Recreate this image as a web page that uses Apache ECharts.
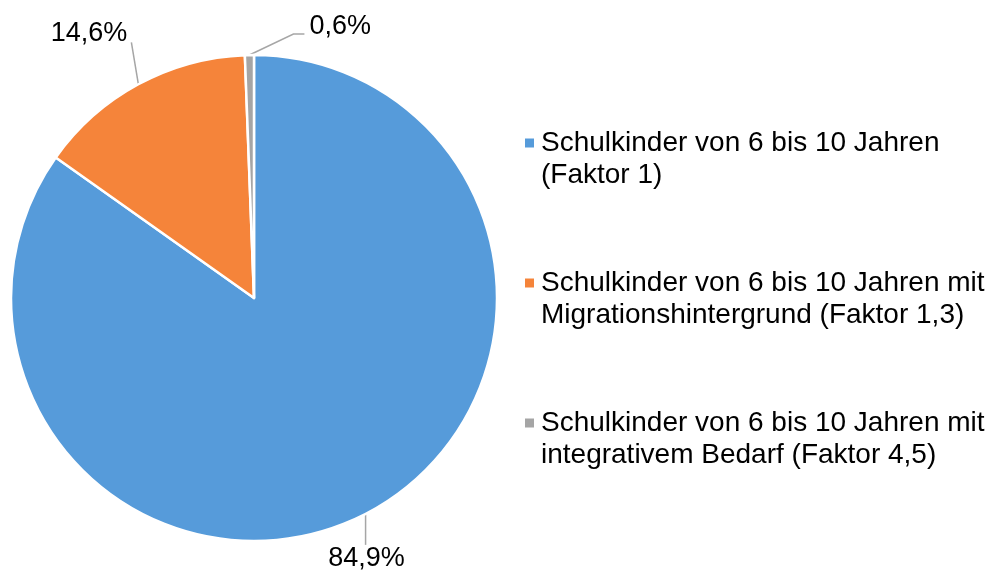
<!DOCTYPE html>
<html>
<head>
<meta charset="utf-8">
<script src="https://cdn.jsdelivr.net/npm/echarts@6/dist/echarts.min.js"></script>
<style>
  html, body { margin: 0; padding: 0; background: #fff; }
  #chart { width: 990px; height: 576px; }
</style>
</head>
<body>
<div id="chart"></div>
<script>
// Kategorien (Legendentext, zweizeilig) und Anteile in Prozent
const categories = [
  'Schulkinder von 6 bis 10 Jahren (Faktor 1)',
  'Schulkinder von 6 bis 10 Jahren mit Migrationshintergrund (Faktor 1,3)',
  'Schulkinder von 6 bis 10 Jahren mit integrativem Bedarf (Faktor 4,5)'
];
const legendLines = [
  ['Schulkinder von 6 bis 10 Jahren', '(Faktor 1)'],
  ['Schulkinder von 6 bis 10 Jahren mit', 'Migrationshintergrund (Faktor 1,3)'],
  ['Schulkinder von 6 bis 10 Jahren mit', 'integrativem Bedarf (Faktor 4,5)']
];
const shares = [84.9, 14.6, 0.6];
const colors = ['#569BDA', '#F5843A', '#A5A5A5'];

const CX = 254, CY = 298, R = 243;
const FONT = 'Liberation Sans, Arial, sans-serif';

const total = shares.reduce((a, b) => a + b, 0);

// Point on the rim at the middle angle of slice i (clockwise from 12 o'clock)
function rimPoint(i) {
  let before = 0;
  for (let k = 0; k < i; k++) before += shares[k];
  const frac = (before + shares[i] / 2) / total;
  const t = frac * Math.PI * 2;
  return [CX + R * Math.sin(t), CY - R * Math.cos(t)];
}

function fmt(v) {
  return v.toFixed(1).replace('.', ',') + '%';
}

const chart = echarts.init(document.getElementById('chart'), null, { renderer: 'canvas' });

chart.setOption({
  animation: false,
  backgroundColor: '#ffffff',
  color: colors,
  legend: {
    orient: 'vertical',
    left: 525,
    top: 95,
    padding: 0,
    itemGap: 44,
    itemWidth: 9,
    itemHeight: 9,
    icon: 'rect',
    selectedMode: false,
    data: categories,
    itemStyle: { borderWidth: 0 },
    formatter: function (name) {
      const i = categories.indexOf(name);
      // leading blank line keeps the marker level with the first text line
      return '\n' + legendLines[i][0] + '\n' + legendLines[i][1];
    },
    textStyle: {
      fontFamily: FONT,
      fontSize: 28,
      lineHeight: 32,
      color: '#000',
      padding: [0, 0, 0, 2]
    }
  },
  series: [{
    type: 'pie',
    center: [CX, CY],
    radius: R,
    startAngle: 90,
    clockwise: true,
    avoidLabelOverlap: false,
    silent: true,
    itemStyle: { borderColor: '#ffffff', borderWidth: 2.5 },
    label: {
      show: true,
      position: 'outside',
      fontFamily: FONT,
      fontSize: 27,
      color: '#000',
      formatter: p => fmt(p.value)
    },
    labelLine: {
      show: true,
      lineStyle: { color: '#A6A6A6', width: 1.5 }
    },
    labelLayout: function (params) {
      const i = params.dataIndex;
      const [ax, ay] = rimPoint(i);
      if (i === 0) {
        const ey = ay + 31;
        return {
          x: ax + 1, y: ey + 14, align: 'center', verticalAlign: 'middle',
          labelLinePoints: [[ax, ay], [ax, ey], [ax, ey]]
        };
      } else if (i === 1) {
        const ex = ax - 7, ey = ay - 42;
        return {
          x: ex - 4, y: ey - 9, align: 'right', verticalAlign: 'middle',
          labelLinePoints: [[ax, ay], [ex, ey], [ex, ey]]
        };
      } else {
        const ex = ax + 44, ey = ay - 21;
        return {
          x: ex + 16, y: ey - 7, align: 'left', verticalAlign: 'middle',
          labelLinePoints: [[ax, ay], [ex, ey], [ex + 11, ey]]
        };
      }
    },
    data: categories.map((c, i) => ({ name: c, value: shares[i] }))
  }]
});
</script>
</body>
</html>
